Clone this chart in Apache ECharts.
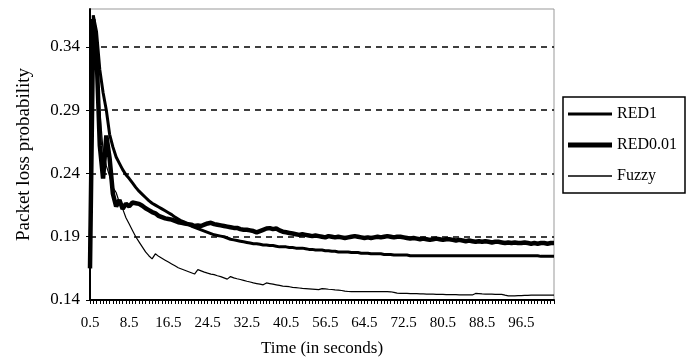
<!DOCTYPE html>
<html>
<head>
<meta charset="utf-8">
<script src="https://cdn.jsdelivr.net/npm/echarts@6/dist/echarts.min.js"></script>
<style>
  html, body { margin: 0; padding: 0; background: #fff; }
  #chart { width: 696px; height: 359px; }
</style>
</head>
<body>
<div id="chart"></div>
<script>
// labels shown under every 12th sample on the time axis
var tickLabels = ['0.5', '8.5', '16.5', '24.5', '32.5', '40.5', '56.5', '64.5', '72.5', '80.5', '88.5', '96.5'];
var labelStep = 12;

// packet loss probability, one value per sample
var red1 = [
  0.17, 0.365, 0.352, 0.322, 0.304, 0.29, 0.271, 0.261, 0.253, 0.248,
  0.243, 0.239, 0.236, 0.2325, 0.229, 0.226, 0.2235, 0.221, 0.2185, 0.2165,
  0.215, 0.2135, 0.212, 0.2105, 0.209, 0.2075, 0.2055, 0.204, 0.2025, 0.2015,
  0.2, 0.1985, 0.1975, 0.1965, 0.1955, 0.1945, 0.1935, 0.1925, 0.1915, 0.191,
  0.1905, 0.19, 0.189, 0.188, 0.1875, 0.187, 0.1865, 0.186, 0.1855, 0.185,
  0.1845, 0.1845, 0.184, 0.1835, 0.1835, 0.183, 0.183, 0.1825, 0.182, 0.182,
  0.182, 0.1815, 0.1815, 0.181, 0.181, 0.181, 0.1805, 0.18, 0.18, 0.1795,
  0.1795, 0.1795, 0.179, 0.179, 0.1785, 0.1785, 0.178, 0.178, 0.178, 0.178,
  0.1775, 0.1775, 0.1775, 0.177, 0.177, 0.177, 0.1765, 0.1765, 0.1765, 0.1765,
  0.176, 0.176, 0.176, 0.1755, 0.1755, 0.1755, 0.1755, 0.1755, 0.175, 0.175,
  0.175, 0.175, 0.175, 0.175, 0.175, 0.175, 0.175, 0.175, 0.175, 0.175,
  0.175, 0.175, 0.175, 0.175, 0.175, 0.175, 0.175, 0.175, 0.175, 0.175,
  0.175, 0.175, 0.175, 0.175, 0.175, 0.175, 0.175, 0.175, 0.175, 0.175,
  0.175, 0.175, 0.175, 0.175, 0.175, 0.175, 0.175, 0.175, 0.1745, 0.1745,
  0.1745, 0.1745, 0.1745
];

var red001 = [
  0.165, 0.362, 0.335, 0.262, 0.236, 0.27, 0.252, 0.224, 0.214, 0.219,
  0.212, 0.216, 0.214, 0.217, 0.2165, 0.216, 0.2145, 0.2125, 0.211, 0.2095,
  0.2085, 0.2065, 0.2055, 0.2045, 0.204, 0.2035, 0.2025, 0.2015, 0.201, 0.2005,
  0.2, 0.1995, 0.1985, 0.199, 0.1985, 0.1995, 0.2005, 0.201, 0.2, 0.1995,
  0.199, 0.1985, 0.198, 0.1975, 0.197, 0.197, 0.196, 0.1955, 0.1955, 0.195,
  0.1945, 0.1935, 0.1945, 0.1955, 0.1965, 0.1968, 0.196, 0.1965, 0.195, 0.194,
  0.1935, 0.193, 0.1925, 0.192, 0.1915, 0.192, 0.1915, 0.191, 0.1905, 0.191,
  0.1905, 0.19, 0.1895, 0.1905, 0.19, 0.1895, 0.19, 0.1895, 0.189, 0.1895,
  0.19, 0.1905, 0.19, 0.1895, 0.189, 0.1895, 0.189, 0.1895, 0.19, 0.1895,
  0.19, 0.1905, 0.19, 0.1895, 0.19, 0.19, 0.1895, 0.189, 0.1885, 0.189,
  0.1885, 0.188, 0.1885, 0.188, 0.1875, 0.188, 0.1885, 0.188, 0.1875, 0.188,
  0.188, 0.1875, 0.187, 0.1875, 0.187, 0.1865, 0.187, 0.1865, 0.186, 0.1865,
  0.186, 0.1865, 0.186, 0.1855, 0.186, 0.186, 0.1855, 0.185, 0.1855, 0.185,
  0.1855, 0.185, 0.185, 0.1855, 0.185, 0.1845, 0.185, 0.1845, 0.185, 0.185,
  0.1845, 0.185, 0.185
];

var fuzzy = [
  0.16, 0.352, 0.338, 0.29, 0.258, 0.246, 0.238, 0.229, 0.225, 0.217,
  0.212, 0.205, 0.2, 0.195, 0.19, 0.186, 0.182, 0.178, 0.175, 0.1725,
  0.1765, 0.1745, 0.173, 0.1715, 0.17, 0.1685, 0.167, 0.1655, 0.1645, 0.1635,
  0.1625, 0.1615, 0.1605, 0.164, 0.163, 0.162, 0.1612, 0.1605, 0.16, 0.1592,
  0.1585, 0.1575, 0.1565, 0.1585, 0.1575, 0.1568, 0.1562, 0.1555, 0.1548, 0.1542,
  0.1535, 0.153, 0.1525, 0.152, 0.1535, 0.153, 0.1525, 0.152, 0.1515, 0.151,
  0.1508, 0.1505, 0.15, 0.1498, 0.1495, 0.1492, 0.149, 0.1488, 0.1486, 0.1484,
  0.1482, 0.149, 0.1488, 0.1485, 0.1483, 0.148, 0.1478, 0.1475, 0.147, 0.1467,
  0.1466, 0.1466, 0.1466, 0.1466, 0.1466, 0.1466, 0.1466, 0.1466, 0.1466, 0.1466,
  0.1466, 0.1466, 0.1465, 0.146, 0.1455, 0.1453, 0.1452, 0.1452, 0.1451, 0.145,
  0.145, 0.1449, 0.1448, 0.1447, 0.1447, 0.1446, 0.1445, 0.1445, 0.1444, 0.1443,
  0.1443, 0.1442, 0.1442, 0.1441, 0.1441, 0.144, 0.144, 0.144, 0.1452, 0.145,
  0.1448, 0.1447, 0.1446, 0.1446, 0.1445, 0.1445, 0.1445, 0.1438, 0.1432, 0.1432,
  0.1433, 0.1434, 0.1435, 0.1436, 0.1437, 0.1438, 0.1438, 0.1438, 0.1438, 0.1438,
  0.1438, 0.1438, 0.1438
];

var samples = red1.map(function (v, i) { return i; });

var serif = "'Liberation Serif', 'DejaVu Serif', serif";

var myChart = echarts.init(document.getElementById('chart'));
var option = {
    animation: false,
    backgroundColor: '#fff',
    textStyle: {fontFamily: serif, color: '#000'},
    grid: {
        left: 90,
        right: 142,
        top: 9,
        bottom: 59,
        outerBoundsMode: 'none',   // keep the plot box where it is
        show: true,
        borderColor: '#999',
        borderWidth: 1
    },
    legend: {
        orient: 'vertical',
        left: 563,
        top: 97,
        padding: [9, 8, 9, 5],
        itemWidth: 44,
        itemHeight: 14,
        itemGap: 15,
        borderColor: '#000',
        borderWidth: 1.5,
        textStyle: {fontFamily: serif, fontSize: 16, color: '#000'},
        // line samples of different weights, like the series
        data: [
            {name: 'RED1', icon: 'path://M0,0H44V3H0Z'},
            {name: 'RED0.01', icon: 'path://M0,0H44V5H0Z'},
            {name: 'Fuzzy', icon: 'path://M0,0H44V1.5H0Z'}
        ]
    },
    xAxis: {
        type: 'category',
        boundaryGap: false,
        data: samples,
        name: 'Time (in seconds)',
        nameLocation: 'middle',
        nameGap: 40,
        nameTextStyle: {fontFamily: serif, fontSize: 17, color: '#000'},
        axisLine: {lineStyle: {color: '#000', width: 2}},
        axisTick: {interval: 0, length: 4, lineStyle: {color: '#000', width: 1}},
        axisLabel: {
            interval: labelStep - 1,
            margin: 16,
            fontFamily: serif,
            fontSize: 15,
            color: '#000',
            formatter: function (value, index) {
                return tickLabels[index / labelStep] || '';
            }
        },
        splitLine: {show: false}
    },
    yAxis: {
        type: 'value',
        min: 0.14,
        max: 0.37,
        interval: 0.05,
        name: 'Packet loss probability',
        nameLocation: 'middle',
        nameGap: 56,
        nameTextStyle: {fontFamily: serif, fontSize: 19, color: '#000'},
        axisLine: {show: true, lineStyle: {color: '#000', width: 2}},
        axisTick: {show: true, length: 4, lineStyle: {color: '#000'}},
        axisLabel: {
            showMaxLabel: false,
            margin: 10,
            fontFamily: serif,
            fontSize: 17,
            color: '#000',
            formatter: function (v) { return v.toFixed(2); }
        },
        splitLine: {
            show: true,
            showMinLine: false,
            showMaxLine: false,
            lineStyle: {color: '#000', width: 1.5, type: [6, 5]}
        }
    },
    series: [
        {
            name: 'RED1',
            type: 'line',
            data: red1,
            symbol: 'none',
            lineStyle: {color: '#000', width: 3},
            itemStyle: {color: '#000'}
        },
        {
            name: 'RED0.01',
            type: 'line',
            data: red001,
            symbol: 'none',
            lineStyle: {color: '#000', width: 4.5},
            itemStyle: {color: '#000'}
        },
        {
            name: 'Fuzzy',
            type: 'line',
            data: fuzzy,
            symbol: 'none',
            lineStyle: {color: '#000', width: 1.2},
            itemStyle: {color: '#000'}
        }
    ]
};
myChart.setOption(option);
</script>
</body>
</html>
